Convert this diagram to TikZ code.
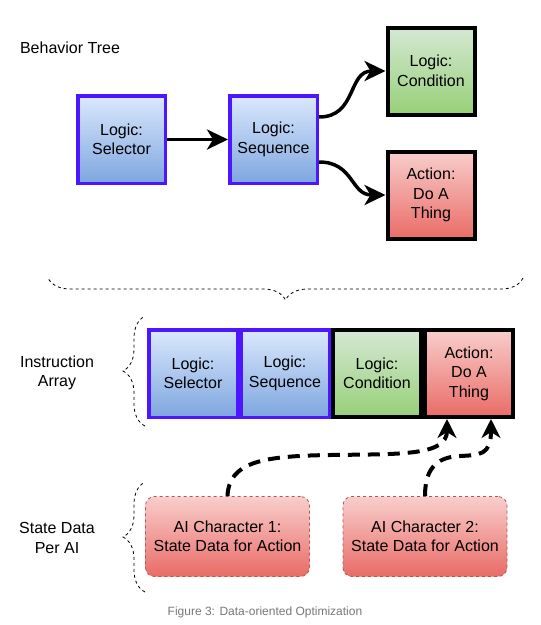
\documentclass[tikz,border=0pt]{standalone}
\usepackage{fontspec}
\setmainfont{Liberation Sans}
\usetikzlibrary{arrows.meta,decorations.pathreplacing}
\definecolor{selblue}{HTML}{4C17FF}
\definecolor{bluetop}{HTML}{DAE8FC}
\definecolor{bluebot}{HTML}{7EA6E0}
\definecolor{greentop}{HTML}{D5E8D4}
\definecolor{greenbot}{HTML}{97D077}
\definecolor{redtop}{HTML}{F8CECC}
\definecolor{redbot}{HTML}{EA6B66}
\definecolor{redline}{HTML}{B85450}
\definecolor{capgray}{HTML}{777777}
\tikzset{
  txt/.style={align=center, font=\fontsize{16}{19.5}\selectfont},
  logicbox/.style={txt, draw=selblue, line width=3.5pt, top color=bluetop, bottom color=bluebot, minimum width=87.5pt, minimum height=87.5pt, inner sep=0pt},
  condbox/.style={txt, draw=black, line width=4pt, top color=greentop, bottom color=greenbot, minimum width=87pt, minimum height=87pt, inner sep=0pt},
  actbox/.style={txt, draw=black, line width=4pt, top color=redtop, bottom color=redbot, minimum width=87pt, minimum height=87pt, inner sep=0pt},
  statebox/.style={txt, draw=redline, dashed, line width=0.8pt, rounded corners=9pt, top color=redtop, bottom color=redbot, minimum width=164pt, minimum height=80pt, inner sep=0pt},
  link/.style={line width=3.5pt, -{Stealth[length=21pt,width=20pt,inset=6pt]}},
  datalink/.style={line width=4pt, dash pattern=on 12pt off 8pt, -{Stealth[length=19pt,width=19pt,inset=6pt]}},
  brace/.style={decorate, decoration={brace, amplitude=22pt}, dash pattern=on 3pt off 3pt, line width=0.8pt},
}

\begin{document}
\begin{tikzpicture}[x=1pt, y=-1pt]
  \useasboundingbox (0,0) rectangle (541,625);
  \node[txt] (title) at (70,48) {Behavior Tree};
  \node[logicbox] (sel) at (121.5,139.5) {Logic:\\Selector};
  \node[logicbox] (seq) at (273.5,139.5) {Logic:\\Sequence};
  \node[condbox] (cond) at (431,71) {Logic:\\Condition};
  \node[actbox] (act) at (431,195) {Action:\\Do A\\Thing};
  \draw[link] (sel) -- (seq);
  \draw[link] ([yshift=22.5pt]seq.east) to[out=0, in=180, looseness=1.2] (cond.west);
  \draw[link] ([yshift=-22.5pt]seq.east) to[out=0, in=180, looseness=1.2] (act.west);

  \draw[brace] (523,278) -- (48,278);

  \node[txt] (ia) at (57,373) {Instruction\\Array};
  \draw[brace] (145,426) -- (145,316);
  \node[logicbox, minimum width=88.5pt] (i1) at (193,373.5) {Logic:\\Selector};
  \node[logicbox, minimum width=88.5pt] (i2) at (285,373.5) {Logic:\\Sequence};
  \node[condbox, minimum width=88pt] (i3) at (377,373.5) {Logic:\\Condition};
  \node[actbox, minimum width=88pt] (i4) at (469,373.5) {Action:\\Do A\\Thing};

  \node[txt] (sd) at (57,538) {State Data\\Per AI};
  \draw[brace] (145,592) -- (145,482);
  \node[statebox] (s1) at (227.5,536.5) {AI Character 1:\\State Data for Action};
  \node[statebox] (s2) at (425,536.5) {AI Character 2:\\State Data for Action};
  \coordinate (m1) at (330,455);
  \coordinate (m2) at (460,456);
  \draw[datalink] (s1.north) .. controls (229,462) and (262,456) .. (m1) .. controls (400,454) and (447,456) .. ([xshift=-22pt]i4.south);
  \draw[datalink] (s2.north) .. controls (425,465) and (440,457) .. (m2) .. controls (480,455) and (491,455) .. ([xshift=22pt]i4.south);

  \node[font=\fontsize{12}{14}\selectfont, text=capgray] (cap) at (265,612) {Figure 3: Data-oriented Optimization};
\end{tikzpicture}
\end{document}
